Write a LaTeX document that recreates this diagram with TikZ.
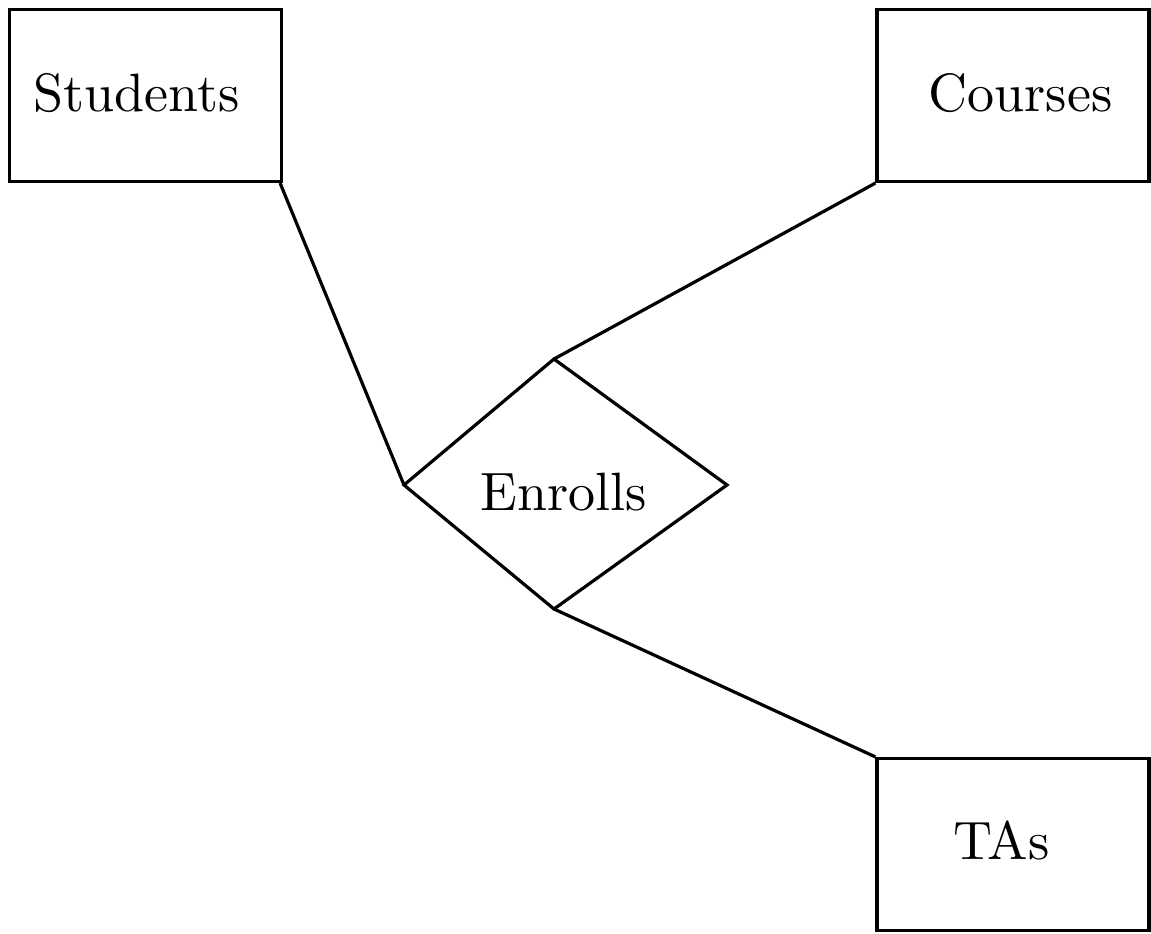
\documentclass[tikz,border=0pt]{standalone}
\begin{document}
\begin{tikzpicture}[x=1pt,y=-1pt,line width=3.2pt,line join=miter,
  entity/.style={draw,rectangle,minimum width=272pt,minimum height=172pt,inner sep=0pt},
  lbl/.style={font=\fontsize{10}{12}\selectfont,inner sep=0pt,anchor=base,scale=5.4,transform shape}]
\useasboundingbox (0,0) rectangle (1151,934);
\node[entity] (stu) at (145.5,95.5) {};
\node[entity] (cou) at (1013,95.5) {};
\node[entity] (tas) at (1013,844.5) {};
\node[lbl] (stut) at (136.5,111.5) {Students};
\node[lbl] (cout) at (1020.5,111.5) {Courses};
\node[lbl] (tast) at (1001.5,859) {TAs};
\coordinate (dl) at (404,485);
\coordinate (dt) at (554,359);
\coordinate (dr) at (727,485);
\coordinate (db) at (554,609);
\draw (dl) -- (dt) -- (dr) -- (db) -- cycle;
\node[lbl] (enr) at (563.5,510.5) {Enrolls};
\draw (stu.south east) ++(-3,0) coordinate (sc) (sc) -- (dl);
\draw (cou.south west) -- (dt);
\draw (db) -- (tas.north west);
\end{tikzpicture}
\end{document}
